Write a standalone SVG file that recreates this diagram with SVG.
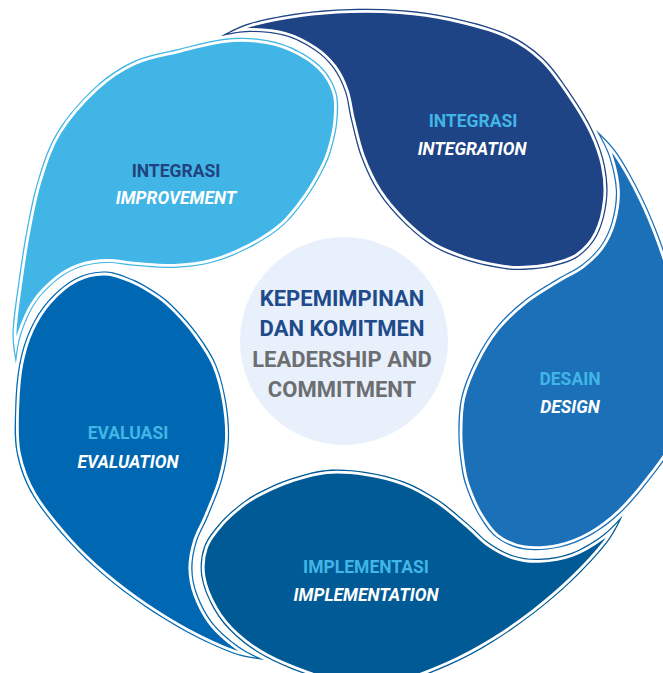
<svg xmlns="http://www.w3.org/2000/svg" width="663" height="673" viewBox="0 0 663 673">
<defs>
<path id="petal" d="M221,36 C225.8,33.8 236.8,26.8 250,23 C263.2,19.2 283.3,15.3 300,13 C316.7,10.7 333.3,9.5 350,9 C366.7,8.5 383.3,8.7 400,10 C416.7,11.3 432.5,13.2 450,17 C467.5,20.8 489.5,26.2 505,33 C520.5,39.8 532,47.8 543,58 C554,68.2 562.7,81.8 571,94 C579.3,106.2 587.3,119 593,131 C598.7,143 602.7,154.5 605,166 C607.3,177.5 608.2,188.7 607,200 C605.8,211.3 602.8,224.5 598,234 C593.2,243.5 586,251.5 578,257 C570,262.5 559.7,264.8 550,267 C540.3,269.2 528.7,269.8 520,270 C511.3,270.2 506.7,269.5 498,268 C489.3,266.5 478.7,264.5 468,261 C457.3,257.5 444.8,253.5 434,247 C423.2,240.5 412.3,231.2 403,222 C393.7,212.8 385,202.8 378,192 C371,181.2 365.5,169 361,157 C356.5,145 353.7,130.8 351,120 C348.3,109.2 348,100.7 345,92 C342,83.3 338.2,75 333,68 C327.8,61 322,55.3 314,50 C306,44.7 295.7,39 285,36 C274.3,33 260.7,32 250,32 C239.3,32 225.8,35.3 221,36 Z"/>
<path id="petalWide" d="M221,36 C225.8,33.8 236.8,26.8 250,23 C263.2,19.2 283.3,16 300,13 C316.7,10 333.05,7.15 350,5 C366.95,2.85 384.3,0.32 401.7,0.1 C419.1,-0.12 436.6,-0.6 454.4,3.7 C472.2,8 493.55,17.4 508.7,25.9 C523.85,34.4 534.9,43.35 545.3,54.7 C555.7,66.05 563.05,81.3 571,94 C578.95,106.7 587.3,119 593,131 C598.7,143 602.7,154.5 605,166 C607.3,177.5 608.2,188.7 607,200 C605.8,211.3 602.8,224.5 598,234 C593.2,243.5 586,251.5 578,257 C570,262.5 559.7,264.8 550,267 C540.3,269.2 528.7,269.8 520,270 C511.3,270.2 506.7,269.5 498,268 C489.3,266.5 478.7,264.5 468,261 C457.3,257.5 444.8,253.5 434,247 C423.2,240.5 412.3,231.2 403,222 C393.7,212.8 385,202.8 378,192 C371,181.2 365.5,169 361,157 C356.5,145 353.7,130.8 351,120 C348.3,109.2 348,100.7 345,92 C342,83.3 338.2,75 333,68 C327.8,61 322,55.3 314,50 C306,44.7 295.7,39 285,36 C274.3,33 260.7,32 250,32 C239.3,32 225.8,35.3 221,36 Z"/>
<clipPath id="petalClip"><use href="#petal"/></clipPath>
<clipPath id="petalWideClip"><use href="#petalWide"/></clipPath>
</defs>
<style>
.body{fill:currentColor;stroke:#fff;stroke-width:8;stroke-linejoin:round}
.line{fill:none;stroke:currentColor;stroke-width:2.4}
text{font-family:Roboto,"Liberation Sans",sans-serif;font-weight:700;text-anchor:middle}
.lbl{font-size:17.5px}
.en{font-style:italic;fill:#fff}
.id{fill:#41b6e6}
.ctr{font-size:22px}
</style>
<rect width="663" height="673" fill="#fff"/>

<g id="integration">
 <g clip-path="url(#petalClip)" style="color:#1f4486">
  <use href="#petal" class="body"/><use href="#petal" class="line"/>
 </g>
 <text class="lbl id" x="473" y="127">INTEGRASI</text>
 <text class="lbl en" x="472" y="155">INTEGRATION</text>
</g>

<g id="design">
 <g transform="rotate(72 344 341)">
  <g clip-path="url(#petalClip)" style="color:#1b70b8">
   <use href="#petal" class="body"/><use href="#petal" class="line"/>
  </g>
 </g>
 <text class="lbl id" x="570" y="385">DESAIN</text>
 <text class="lbl en" x="570" y="413">DESIGN</text>
</g>

<g id="implementation">
 <g transform="rotate(144 344 341)">
  <g clip-path="url(#petalClip)" style="color:#005a95">
   <use href="#petal" class="body"/><use href="#petal" class="line"/>
  </g>
 </g>
 <text class="lbl id" x="366" y="573">IMPLEMENTASI</text>
 <text class="lbl en" x="366" y="601">IMPLEMENTATION</text>
</g>

<g id="evaluation">
 <g transform="rotate(216 344 341)">
  <g clip-path="url(#petalClip)" style="color:#0068b2">
   <use href="#petal" class="body"/><use href="#petal" class="line"/>
  </g>
 </g>
 <text class="lbl id" x="128" y="439">EVALUASI</text>
 <text class="lbl en" x="128" y="468">EVALUATION</text>
</g>

<g id="improvement">
 <g transform="rotate(-72 344 341)">
  <g clip-path="url(#petalWideClip)" style="color:#41b6e6">
   <use href="#petalWide" class="body"/><use href="#petalWide" class="line"/>
  </g>
 </g>
 <text class="lbl" x="176" y="177" fill="#21427f">INTEGRASI</text>
 <text class="lbl en" x="176" y="204">IMPROVEMENT</text>
</g>

<g id="center">
 <circle cx="344" cy="341" r="104" fill="#e8f1fb"/>
 <text class="ctr" x="342" y="306" fill="#214a8b">KEPEMIMPINAN</text>
 <text class="ctr" x="342" y="336" fill="#214a8b">DAN KOMITMEN</text>
 <text class="ctr" x="342" y="367" fill="#6d6e71">LEADERSHIP AND</text>
 <text class="ctr" x="342" y="397" fill="#6d6e71">COMMITMENT</text>
</g>
</svg>
